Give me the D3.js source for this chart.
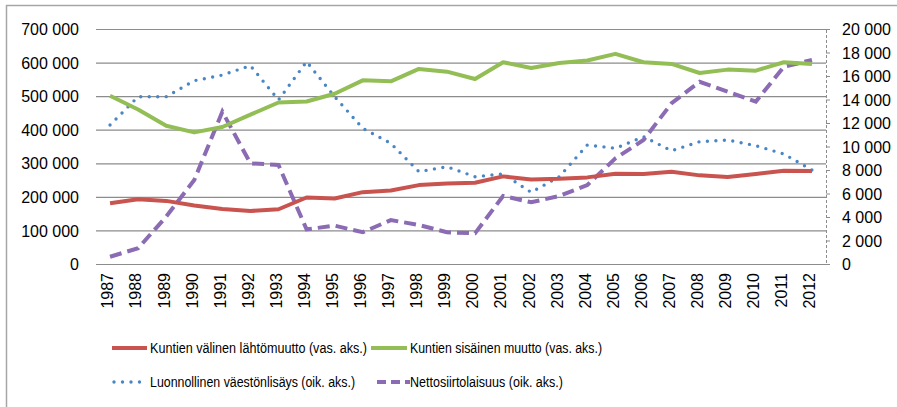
<!DOCTYPE html>
<html>
<head>
<meta charset="utf-8">
<script src="https://cdn.jsdelivr.net/npm/d3@7"></script>
<style>
  html, body { margin: 0; padding: 0; background: #fff; }
  svg { display: block; }
  text { font-family: "Liberation Sans", Arial, sans-serif; fill: #000; }
</style>
</head>
<body>
<svg id="chart" width="897" height="407"></svg>
<script>
const years = [1987,1988,1989,1990,1991,1992,1993,1994,1995,1996,1997,1998,1999,2000,2001,2002,2003,2004,2005,2006,2007,2008,2009,2010,2011,2012];

const lahtomuutto = [181000,193000,188000,174000,164000,158000,163000,198000,195000,214000,219000,235000,240000,242000,261000,252000,254000,258000,269000,268000,275000,264000,259000,268000,278000,277000];
const sisainenMuutto = [501000,460000,412000,392000,408000,445000,481000,484000,507000,547000,544000,581000,573000,551000,601000,584000,599000,606000,626000,601000,596000,569000,579000,576000,601000,596000];
const luonnollinen = [11830,14240,14240,15600,16080,16880,13960,17220,14240,11550,10270,7860,8280,7430,7660,6100,7430,10130,9850,10830,9640,10410,10550,10070,9360,8000];
const nettosiirto = [620,1340,4030,7150,12960,8570,8430,2950,3260,2700,3740,3320,2700,2610,5790,5250,5790,6720,8990,10550,13680,15510,14660,13810,16790,17360];

const leftTicks = [0,100000,200000,300000,400000,500000,600000,700000];
const leftTickLabels = ["0","100 000","200 000","300 000","400 000","500 000","600 000","700 000"];
const rightTicks = [0,2000,4000,6000,8000,10000,12000,14000,16000,18000,20000];
const rightTickLabels = ["0","2 000","4 000","6 000","8 000","10 000","12 000","14 000","16 000","18 000","20 000"];

const seriesNames = ["Kuntien välinen lähtömuutto (vas. aks.)","Kuntien sisäinen muutto (vas. aks.)","Luonnollinen väestönlisäys (oik. aks.)","Nettosiirtolaisuus (oik. aks.)"];

(function(){
const svg = d3.select("#chart");

// chart border (top + left)
svg.append("line").attr("x1",6).attr("x2",897).attr("y1",5.5).attr("y2",5.5).attr("stroke","#a6a6a6").attr("stroke-width",1.5);
svg.append("line").attr("x1",6.5).attr("x2",6.5).attr("y1",5).attr("y2",407).attr("stroke","#a6a6a6").attr("stroke-width",1.5);

const pLeft = 96, pRight = 826, pTop = 29, pBottom = 264;

const x = d3.scalePoint().domain(years).range([pLeft, pRight]).padding(0.5);
const yL = d3.scaleLinear().domain([0,700000]).range([pBottom, pTop]);
const yR = d3.scaleLinear().domain([0,20000]).range([pBottom, pTop]);

// left axis with gridlines
const gL = svg.append("g").attr("transform",`translate(${pLeft},0)`)
  .call(d3.axisLeft(yL).tickValues(leftTicks)
    .tickFormat((d,i)=>leftTickLabels[i]).tickSize(-(pRight-pLeft)).tickPadding(17));
gL.select(".domain").remove();
gL.selectAll(".tick line").attr("stroke","#8c8c8c").attr("stroke-width",1.2);
gL.selectAll(".tick text").style("font-size","16px").attr("dy","0.35em");

// right axis
const gR = svg.append("g").attr("transform",`translate(${pRight},0)`)
  .call(d3.axisRight(yR).tickValues(rightTicks)
    .tickFormat((d,i)=>rightTickLabels[i]).tickSize(4).tickPadding(12));
gR.select(".domain").attr("stroke","#8c8c8c").attr("stroke-dasharray","3,2").attr("stroke-width",1);
gR.selectAll(".tick line").attr("stroke","#8c8c8c").attr("stroke-width",1);
gR.selectAll(".tick text").style("font-size","16px").attr("dy","0.35em");

// x axis
const gX = svg.append("g").attr("transform",`translate(0,${pBottom})`)
  .call(d3.axisBottom(x).tickSize(0).tickPadding(0));
gX.select(".domain").attr("d",`M${pLeft},0.5H${pRight}`).attr("stroke","#8c8c8c").attr("stroke-width",1.2);
gX.selectAll(".tick text")
  .style("font-size","16px")
  .attr("text-anchor","end")
  .attr("transform","translate(-2,9) rotate(-90)")
  .attr("x",0).attr("y",0).attr("dy","0.3em");

// lines
const lineL = d3.line().x((d,i)=>x(years[i])).y(d=>yL(d));
const lineR = d3.line().x((d,i)=>x(years[i])).y(d=>yR(d));

const red = "#C9544F", green = "#93BE56", blue = "#4A86C5", purple = "#8B6BB3";

svg.append("path").datum(luonnollinen).attr("d",lineR)
  .attr("fill","none").attr("stroke",blue).attr("stroke-width",3.4)
  .attr("stroke-linecap","round").attr("stroke-dasharray","0,8.5");
svg.append("path").datum(nettosiirto).attr("d",lineR)
  .attr("fill","none").attr("stroke",purple).attr("stroke-width",4)
  .attr("stroke-dasharray","12,6");
svg.append("path").datum(sisainenMuutto).attr("d",lineL)
  .attr("fill","none").attr("stroke",green).attr("stroke-width",4).attr("stroke-linejoin","round");
svg.append("path").datum(lahtomuutto).attr("d",lineL)
  .attr("fill","none").attr("stroke",red).attr("stroke-width",4).attr("stroke-linejoin","round");

// legend
const legendItems = [
  {name: seriesNames[0], color: red, dash: null, cap: "butt", w: 4, x: 112, len: 35, y: 348, tx: 150, tw: 217},
  {name: seriesNames[1], color: green, dash: null, cap: "butt", w: 4, x: 371, len: 36, y: 348, tx: 410, tw: 192},
  {name: seriesNames[2], color: blue, dash: "0,8.5", cap: "round", w: 3.4, x: 114, len: 32, y: 382, tx: 150, tw: 205},
  {name: seriesNames[3], color: purple, dash: "9,5", cap: "butt", w: 4, x: 377, len: 33, y: 382, tx: 410, tw: 153}
];
const lg = svg.append("g");
legendItems.forEach(it => {
  const g = lg.append("g");
  g.append("line").attr("x1",it.x).attr("x2",it.x + it.len).attr("y1",it.y).attr("y2",it.y)
    .attr("stroke",it.color).attr("stroke-width",it.w).attr("stroke-linecap",it.cap)
    .attr("stroke-dasharray",it.dash);
  g.append("text").attr("x", it.tx).attr("y",it.y).attr("dy","0.35em")
    .style("font-size","15.5px")
    .attr("textLength", it.tw).attr("lengthAdjust","spacingAndGlyphs")
    .text(it.name);
});
})();
</script>
</body>
</html>
